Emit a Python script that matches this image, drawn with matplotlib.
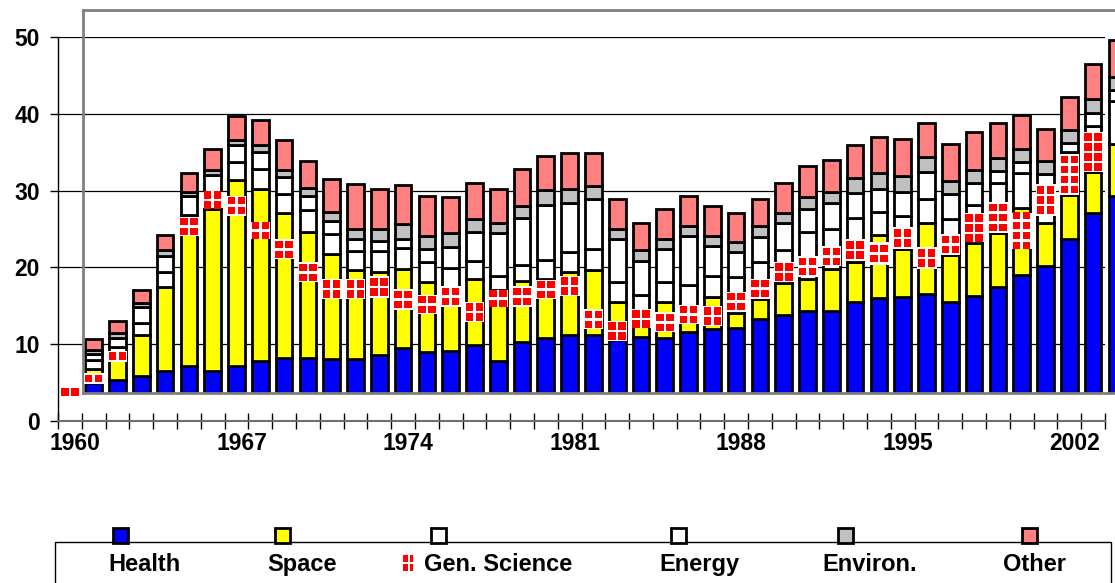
import numpy as np
import matplotlib
matplotlib.use("Agg")
import matplotlib.pyplot as plt
from matplotlib.patches import Rectangle
from matplotlib.transforms import ScaledTranslation

# Годы и значения по отраслям (стек снизу вверх)
years = list(range(1960, 2005))
health = [1.0, 1.3, 1.7, 2.2, 2.9, 3.5, 2.9, 3.5, 4.2, 4.5, 4.6, 4.4, 4.4, 5.0, 5.8,
          5.4, 5.5, 6.2, 4.2, 6.6, 7.2, 7.5, 7.5, 6.9, 7.3, 7.2, 7.9, 8.3, 8.5, 9.6,
          10.2, 10.7, 10.7, 11.8, 12.4, 12.5, 12.9, 11.8, 12.6, 13.8, 15.3, 16.6, 20.1, 23.4, 25.7]
space = [0.5, 1.8, 3.0, 5.4, 10.9, 17.3, 21.1, 24.2, 22.4, 19.0, 16.4, 13.7, 11.6, 10.8, 10.3,
         9.1, 8.3, 8.6, 9.2, 8.0, 7.6, 8.3, 8.5, 5.0, 3.4, 4.6, 3.4, 4.2, 1.9, 2.6,
         4.1, 4.2, 5.5, 5.3, 8.2, 6.2, 9.3, 6.2, 6.9, 7.0, 8.8, 5.6, 5.7, 5.4, 6.7]
gen_science = [0.5, 1.2, 1.3, 1.5, 1.9, 2.4, 2.1, 2.4, 2.6, 2.4, 2.8, 2.6, 2.5, 2.7, 2.8,
               2.6, 2.5, 2.4, 1.8, 2.1, 2.5, 2.5, 2.7, 2.5, 2.1, 2.6, 2.7, 2.7, 4.7, 4.9,
               4.3, 6.1, 5.2, 5.7, 3.0, 4.3, 3.0, 4.6, 5.0, 6.5, 4.6, 4.9, 5.6, 6.0, 5.6]
energy = [0.5, 0.8, 1.1, 2.1, 2.2, 2.5, 2.3, 2.2, 2.2, 2.2, 1.9, 1.7, 1.5, 1.3, 1.2,
          1.7, 2.7, 3.8, 5.6, 6.1, 7.2, 6.5, 6.6, 5.6, 4.4, 4.3, 6.5, 3.9, 3.3, 3.2,
          3.5, 3.0, 3.3, 3.3, 3.0, 3.2, 3.6, 3.3, 2.9, 1.6, 1.4, 1.4, 1.2, 1.6, 1.5]
environ = [0.2, 0.5, 0.7, 0.5, 0.7, 0.5, 0.7, 0.7, 0.9, 0.9, 1.0, 1.2, 1.4, 1.6, 1.9,
           1.6, 1.8, 1.7, 1.4, 1.5, 1.9, 1.8, 1.7, 1.4, 1.4, 1.3, 1.3, 1.3, 1.3, 1.4,
           1.3, 1.5, 1.5, 1.9, 2.0, 2.0, 1.9, 1.7, 1.6, 1.7, 1.7, 1.7, 1.7, 1.9, 1.7]
other = [0.8, 1.4, 1.6, 1.7, 2.0, 2.4, 2.7, 3.1, 3.2, 4.0, 3.5, 4.3, 5.8, 5.2, 5.1,
         5.2, 4.7, 4.7, 4.3, 4.9, 4.5, 4.6, 4.3, 3.8, 3.5, 3.9, 3.9, 4.0, 3.7, 3.6,
         4.0, 4.0, 4.1, 4.3, 4.7, 4.9, 4.5, 4.8, 5.0, 4.6, 4.4, 4.2, 4.3, 4.6, 4.8]

# Где на картинке оказался узор "Gen. Science" (низ и верх, в единицах оси)
nan = np.nan
mark_lo = [-0.4, 1.2, 4.1, nan, nan, 20.4, 24.1, 23.1, 20.0, 17.4, 14.4, 12.2, 12.2, 12.4, 10.8,
           10.3, 11.2, 9.3, 11.2, 11.2, 12.2, 12.6, 8.3, 6.8, 8.4, 7.9, 9.0, 8.7, 10.6, 12.3,
           14.4, 15.1, 16.5, 17.2, 16.7, 18.8, 16.1, 18.0, 19.6, 20.8, 18.8, 23.0, 25.8, 28.8, nan]
mark_hi = [0.6, 2.6, 5.5, nan, nan, 22.9, 26.2, 25.7, 22.3, 20.0, 17.0, 14.9, 14.9, 15.2, 13.5,
           12.8, 13.9, 11.8, 13.4, 13.9, 14.7, 15.2, 10.9, 9.4, 10.9, 10.5, 11.5, 11.3, 13.2, 14.9,
           17.1, 17.8, 19.1, 20.0, 19.6, 21.6, 19.0, 20.7, 23.4, 24.9, 23.5, 27.2, 31.1, 34.0, nan]

labels = ["Health", "Space", "Gen. Science", "Energy", "Environ.", "Other"]
colors = ["#0000FF", "#FFFF00", "#FFFFFF", "#FFFFFF", "#C0C0C0", "#FF8080"]

plt.rcParams['font.family'] = ['Liberation Sans', 'DejaVu Sans']
plt.rcParams['font.weight'] = 'bold'

W, H = 1115, 583
fig = plt.figure(figsize=(W / 100, H / 100), dpi=100)


def box(l, t, r, b):
    return [l / W, 1 - b / H, (r - l) / W, (b - t) / H]


# Видимая ось: сетка, подписи, засечки
ax = fig.add_axes(box(58, 37, 1105, 421))
n_vis = 44
step = (1105 - 58) / n_vis      # пикселей на год
ppu = (421 - 37) / 50           # пикселей на единицу
ax.set_xlim(-0.5, n_vis - 0.5)
ax.set_ylim(0, 50)
ax.set_yticks(range(0, 51, 10))
ax.yaxis.grid(True, color="black", linewidth=0.9)
ax.set_axisbelow(True)
ax.spines["top"].set_visible(False)
ax.spines["right"].set_visible(False)
ax.spines["left"].set_color("black")
ax.spines["left"].set_linewidth(1)
ax.spines["bottom"].set_color("#6e6e6e")
ax.spines["bottom"].set_linewidth(1.5)
ax.tick_params(axis="y", direction="out", length=6, width=1, pad=7, labelsize=16.5)
ax.set_xticks(range(0, n_vis, 7))
ax.set_xticklabels([str(y) for y in years[0:n_vis:7]])
ax.set_xticks(np.arange(-0.5, n_vis, 1), minor=True)
ax.tick_params(axis="x", which="major", length=0, pad=8, labelsize=16.5)
ax.tick_params(axis="x", which="minor", direction="inout", length=11, width=1, color="black")
for lab in ax.get_xticklabels():
    lab.set_transform(lab.get_transform() + ScaledTranslation(5 / 100, 0, fig.dpi_scale_trans))

# Сдвинутая серая рамка со столбцами
fx = fig.add_axes(box(83, 10, 1130, 393))
fx.set_xlim((83 - 58) / step - 0.5, (1130 - 58) / step - 0.5)
fx.set_ylim(0, (393 - 10) / ppu)
fx.patch.set_visible(False)
fx.set_xticks([])
fx.set_yticks([])
for s in ["top", "left", "bottom"]:
    fx.spines[s].set_color("#808080")
    fx.spines[s].set_linewidth(2)
fx.spines["right"].set_visible(False)

x = np.arange(len(years))
bottom = np.zeros(len(years))
for vals, col in zip([health, space, gen_science, energy, environ, other], colors):
    vals = np.array(vals)
    fx.bar(x, vals, 0.7, bottom=bottom, color=col, edgecolor="black", linewidth=2, zorder=2)
    bottom += vals

# Узор "Gen. Science": белая плашка и красные квадраты
sq_w, gap_x = 7.5 / step, 2.5 / step
sq_h, pitch = 7.5 / ppu, 10 / ppu
for i, (lo, hi) in enumerate(zip(mark_lo, mark_hi)):
    if np.isnan(lo):
        continue
    fx.add_patch(Rectangle((i - 0.42, lo), 0.84, hi - lo, facecolor="white",
                           edgecolor="none", clip_on=False, zorder=3))
    nrow = max(1, int(round((hi - lo) / pitch)))
    y0 = (lo + hi) / 2 - (nrow * pitch - (pitch - sq_h)) / 2
    for r in range(nrow):
        for cx in (i - gap_x / 2 - sq_w, i + gap_x / 2):
            fx.add_patch(Rectangle((cx, y0 + r * pitch), sq_w, sq_h, facecolor="red",
                                   edgecolor="none", clip_on=False, zorder=4))

# Легенда (как в оригинале: квадратики над рамкой)
la = fig.add_axes([0, 0, 1, 1])
la.set_xlim(0, W)
la.set_ylim(H, 0)
la.axis("off")
la.add_patch(Rectangle((55, 542), 1056, 60, facecolor="none", edgecolor="black", linewidth=1))
sw_x = [113, 275, 431, 671, 838, 1022]
txt_x = [145, 302, 424, 699, 870, 1035]
for lab, col, sx, tx in zip(labels, colors, sw_x, txt_x):
    la.add_patch(Rectangle((sx, 528), 15, 15, facecolor=col, edgecolor="black", linewidth=2))
    ha = "left" if lab == "Gen. Science" else "center"
    la.text(tx, 571, lab, ha=ha, va="baseline", fontsize=17, fontweight="bold")
for rx, rw in [(403, 5), (410, 3)]:
    for ry in (555, 564):
        la.add_patch(Rectangle((rx, ry), rw, 7, facecolor="red", edgecolor="none"))

fig.savefig("out.png", dpi=100)
